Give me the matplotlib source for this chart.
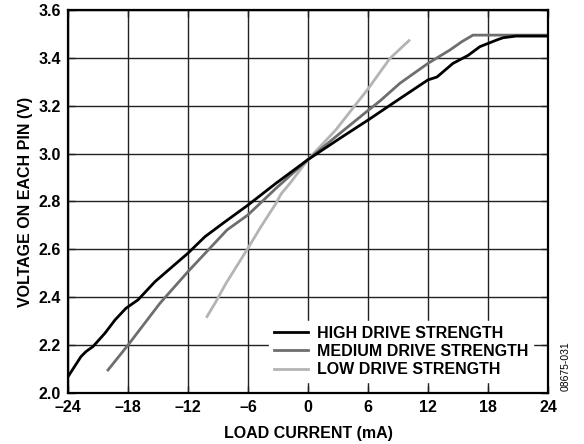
import matplotlib.pyplot as plt

plt.rcParams['font.family'] = ['Liberation Sans', 'DejaVu Sans']

# Werte (Laststrom in mA, Spannung in V)
high_x = [-24, -22.7, -22.2, -21.5, -20.3, -19.3, -18.2, -17, -15.3, -13.5, -12, -10.3, -8.5,
          -6, -3.2, 0, 3.2, 6, 9.2, 12, 12.9, 14.5, 16, 17.2, 18.9, 19.5, 20.8, 24]
high_y = [2.068, 2.152, 2.173, 2.194, 2.25, 2.305, 2.354, 2.389, 2.465, 2.53, 2.584, 2.653, 2.709,
          2.785, 2.876, 2.975, 3.064, 3.14, 3.23, 3.308, 3.32, 3.377, 3.41, 3.447, 3.475, 3.484, 3.491, 3.491]

med_x = [-20, -18, -14.8, -12, -8.1, -6, -3.2, 0, 3.2, 6, 7.2, 9.2, 12, 14.2, 15.4, 16.5, 24]
med_y = [2.096, 2.2, 2.375, 2.507, 2.681, 2.744, 2.855, 2.975, 3.085, 3.18, 3.22, 3.294, 3.377,
         3.433, 3.468, 3.495, 3.495]

low_x = [-10.1, -9.2, -8.2, -6, -4.7, -3.2, -2.7, -1.8, 0, 2.8, 6, 8.2, 10.1]
low_y = [2.319, 2.382, 2.458, 2.605, 2.695, 2.792, 2.831, 2.876, 2.975, 3.10, 3.27, 3.398, 3.472]

x_ticks = [-24, -18, -12, -6, 0, 6, 12, 18, 24]
x_labels = ['–24', '–18', '–12', '–6', '0', '6', '12', '18', '24']
y_ticks = [2.0, 2.2, 2.4, 2.6, 2.8, 3.0, 3.2, 3.4, 3.6]

fs = 11.5

fig = plt.figure(figsize=(5.84, 4.44), dpi=100)
ax = fig.add_axes([0.1164, 0.1149, 0.8219, 0.8626])

ax.plot(low_x, low_y, color='#b4b4b4', lw=2, label='LOW DRIVE STRENGTH')
ax.plot(med_x, med_y, color='#6e6e6e', lw=2, label='MEDIUM DRIVE STRENGTH')
ax.plot(high_x, high_y, color='black', lw=2, label='HIGH DRIVE STRENGTH')

ax.set_xlim(-24, 24)
ax.set_ylim(2.0, 3.6)
ax.set_xticks(x_ticks)
ax.set_xticklabels(x_labels)
ax.set_yticks(y_ticks)
ax.set_yticklabels(['%.1f' % v for v in y_ticks])
ax.grid(True, color='#222222', lw=1)
ax.tick_params(direction='in', length=5, width=1, colors='#222222', labelcolor='black',
               labelsize=fs, top=True, right=True, pad=5)
for lbl in ax.get_xticklabels() + ax.get_yticklabels():
    lbl.set_fontweight('bold')
for s in ax.spines.values():
    s.set_linewidth(1.6)
    s.set_color('black')

ax.set_xlabel('LOAD CURRENT (mA)', fontsize=fs, fontweight='bold', labelpad=8)
ax.set_ylabel('VOLTAGE ON EACH PIN (V)', fontsize=fs, fontweight='bold', labelpad=4)

handles, labels = ax.get_legend_handles_labels()
leg = ax.legend(handles[::-1], labels[::-1], loc='lower right', bbox_to_anchor=(0.985, 0.008),
                frameon=True, fancybox=False, edgecolor='white', framealpha=1,
                prop={'weight': 'bold', 'size': fs}, handlelength=2.1, handletextpad=0.55,
                labelspacing=0.2, borderpad=0.3)

fig.text(0.969, 0.175, '08675-031', rotation=90, fontsize=7.5, ha='center', va='center')

fig.savefig('out.png', dpi=100)
